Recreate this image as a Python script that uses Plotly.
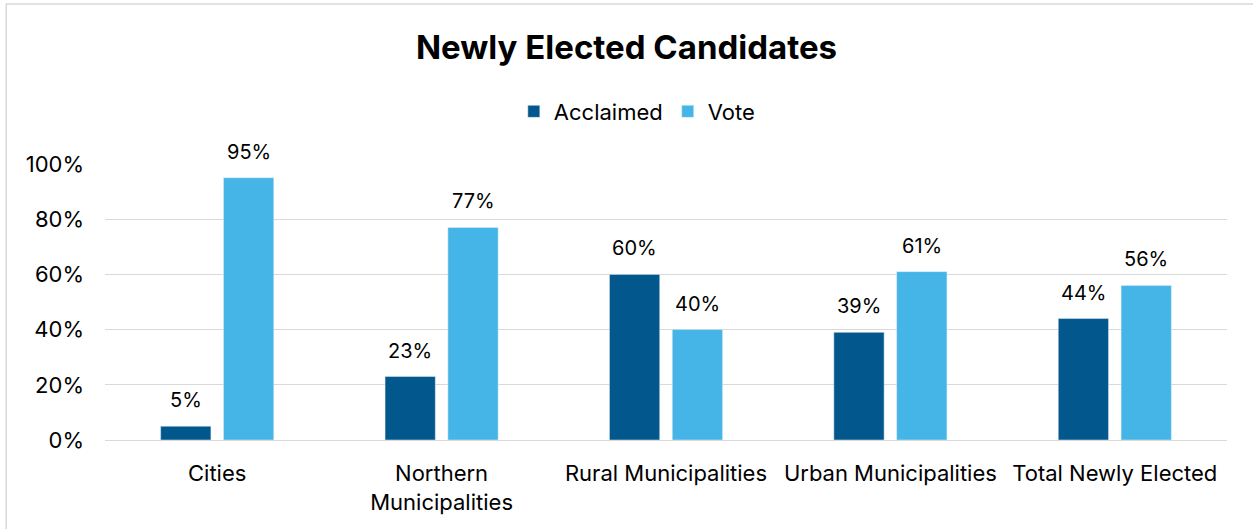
import plotly.graph_objects as go

categories = ["Cities", "Northern<br>Municipalities", "Rural Municipalities",
              "Urban Municipalities", "Total Newly Elected"]
acclaimed = [0.05, 0.23, 0.60, 0.39, 0.44]
vote = [0.95, 0.77, 0.40, 0.61, 0.56]

font_family = "Inter, Lato, Open Sans, sans-serif"
dark = "#02588C"
light = "#44B5E6"

fig = go.Figure()
fig.add_trace(go.Bar(x=categories, y=acclaimed, name="Acclaimed", marker_color=dark))
fig.add_trace(go.Bar(x=categories, y=vote, name="Vote", marker_color=light))

# value labels above bars (bars sit 31.5px either side of category centre)
annotations = []
for vals, shift in [(acclaimed, -31.5), (vote, 31.5)]:
    for c, v in zip(categories, vals):
        annotations.append(dict(x=c, y=v, xref="x", yref="y", text=f"{v:.0%}",
                                showarrow=False, xshift=shift, yshift=12,
                                yanchor="bottom", font=dict(size=20, color="#000000")))

fig.update_layout(
    width=1253, height=529,
    margin=dict(l=105, r=26, t=164, b=89, autoexpand=False),
    paper_bgcolor="white", plot_bgcolor="white",
    font=dict(family=font_family, size=22, color="#000000"),
    title=dict(text="<b>Newly Elected Candidates</b>", x=0.5, xanchor="center",
               y=0.91, yanchor="middle", font=dict(size=33, color="#000000")),
    barmode="group", bargap=0.44, bargroupgap=0.2,
    legend=dict(orientation="h", x=0.474, xanchor="center", y=1.19, yanchor="middle",
                font=dict(size=22), traceorder="normal", itemwidth=30),
    yaxis=dict(range=[0, 1], dtick=0.2, tickformat=".0%", showgrid=True,
               gridcolor="#D9D9D9", gridwidth=1, zeroline=False,
               showline=False, ticks="", ticklabelstandoff=20),
    xaxis=dict(showline=True, linecolor="#D9D9D9", linewidth=1, ticks="",
               ticklabelstandoff=14),
    annotations=annotations,
    shapes=[dict(type="rect", xref="paper", yref="paper",
                 x0=-0.088, x1=1.03, y0=-0.36, y1=1.58,
                 line=dict(color="#D9D9D9", width=1.5))],
)

fig.write_html("out.html", config={"displayModeBar": False},
               post_script="document.body.style.margin='0';")
